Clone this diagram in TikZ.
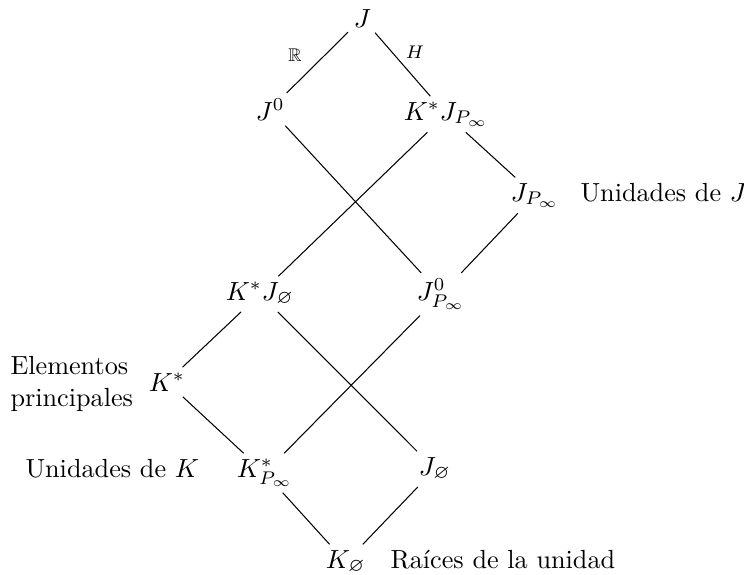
\documentclass[tikz,border=0pt]{standalone}
\usepackage{amssymb}
\tikzset{
  obj/.style={anchor=base west, inner sep=2pt},
  txt/.style={anchor=base west, inner sep=0pt},
  lnk/.style={draw=black, line width=0.4pt},
  elab/.style={font=\scriptsize, inner sep=0pt}
}
\begin{document}
\begin{tikzpicture}[x=0.3817pt, y=-0.3817pt]
\useasboundingbox (0,0) rectangle (744,574);
\node[obj] (J) at (348,27) {$J$};
\node[obj] (J0) at (250,120) {$J^0$};
\node[obj] (KJP) at (398,120) {$K^*J_{P_\infty}$};
\node[obj] (JP) at (505,201) {$J_{P_\infty}$};
\node[txt] (UJ) at (580,201) {Unidades de $J$};
\node[obj] (KJE) at (220,300) {$K^*J_\varnothing$};
\node[obj] (J0P) at (411,300) {$J^0_{P_\infty}$};
\node[obj] (Ks) at (143,391) {$K^*$};
\node[anchor=west, align=left, inner sep=0pt] (EP) at (10,384) {Elementos\\principales};
\node[obj] (KsP) at (231,477) {$K^*_{P_\infty}$};
\node[txt] (UK) at (25,477) {Unidades de $K$};
\node[obj] (JE) at (413,475) {$J_\varnothing$};
\node[obj] (KE) at (320,568) {$K_\varnothing$};
\node[txt] (R) at (390,568) {Raíces de la unidad};
\draw[lnk] (J) -- (J0);
\draw[lnk] (J) -- (KJP);
\node[elab] (lR) at (295,55) {$\mathbb{R}$};
\node[elab] (lH) at (415,52) {$H$};
\draw[lnk] (J0) -- (J0P);
\draw[lnk] (KJP) -- (KJE);
\draw[lnk] (KJP) -- (JP);
\draw[lnk] (JP) -- (J0P);
\draw[lnk] (KJE) -- (Ks);
\draw[lnk] (KJE) -- (JE);
\draw[lnk] (J0P) -- (KsP);
\draw[lnk] (Ks) -- (KsP);
\draw[lnk] (KsP) -- (KE);
\draw[lnk] (JE) -- (KE);
\end{tikzpicture}
\end{document}
